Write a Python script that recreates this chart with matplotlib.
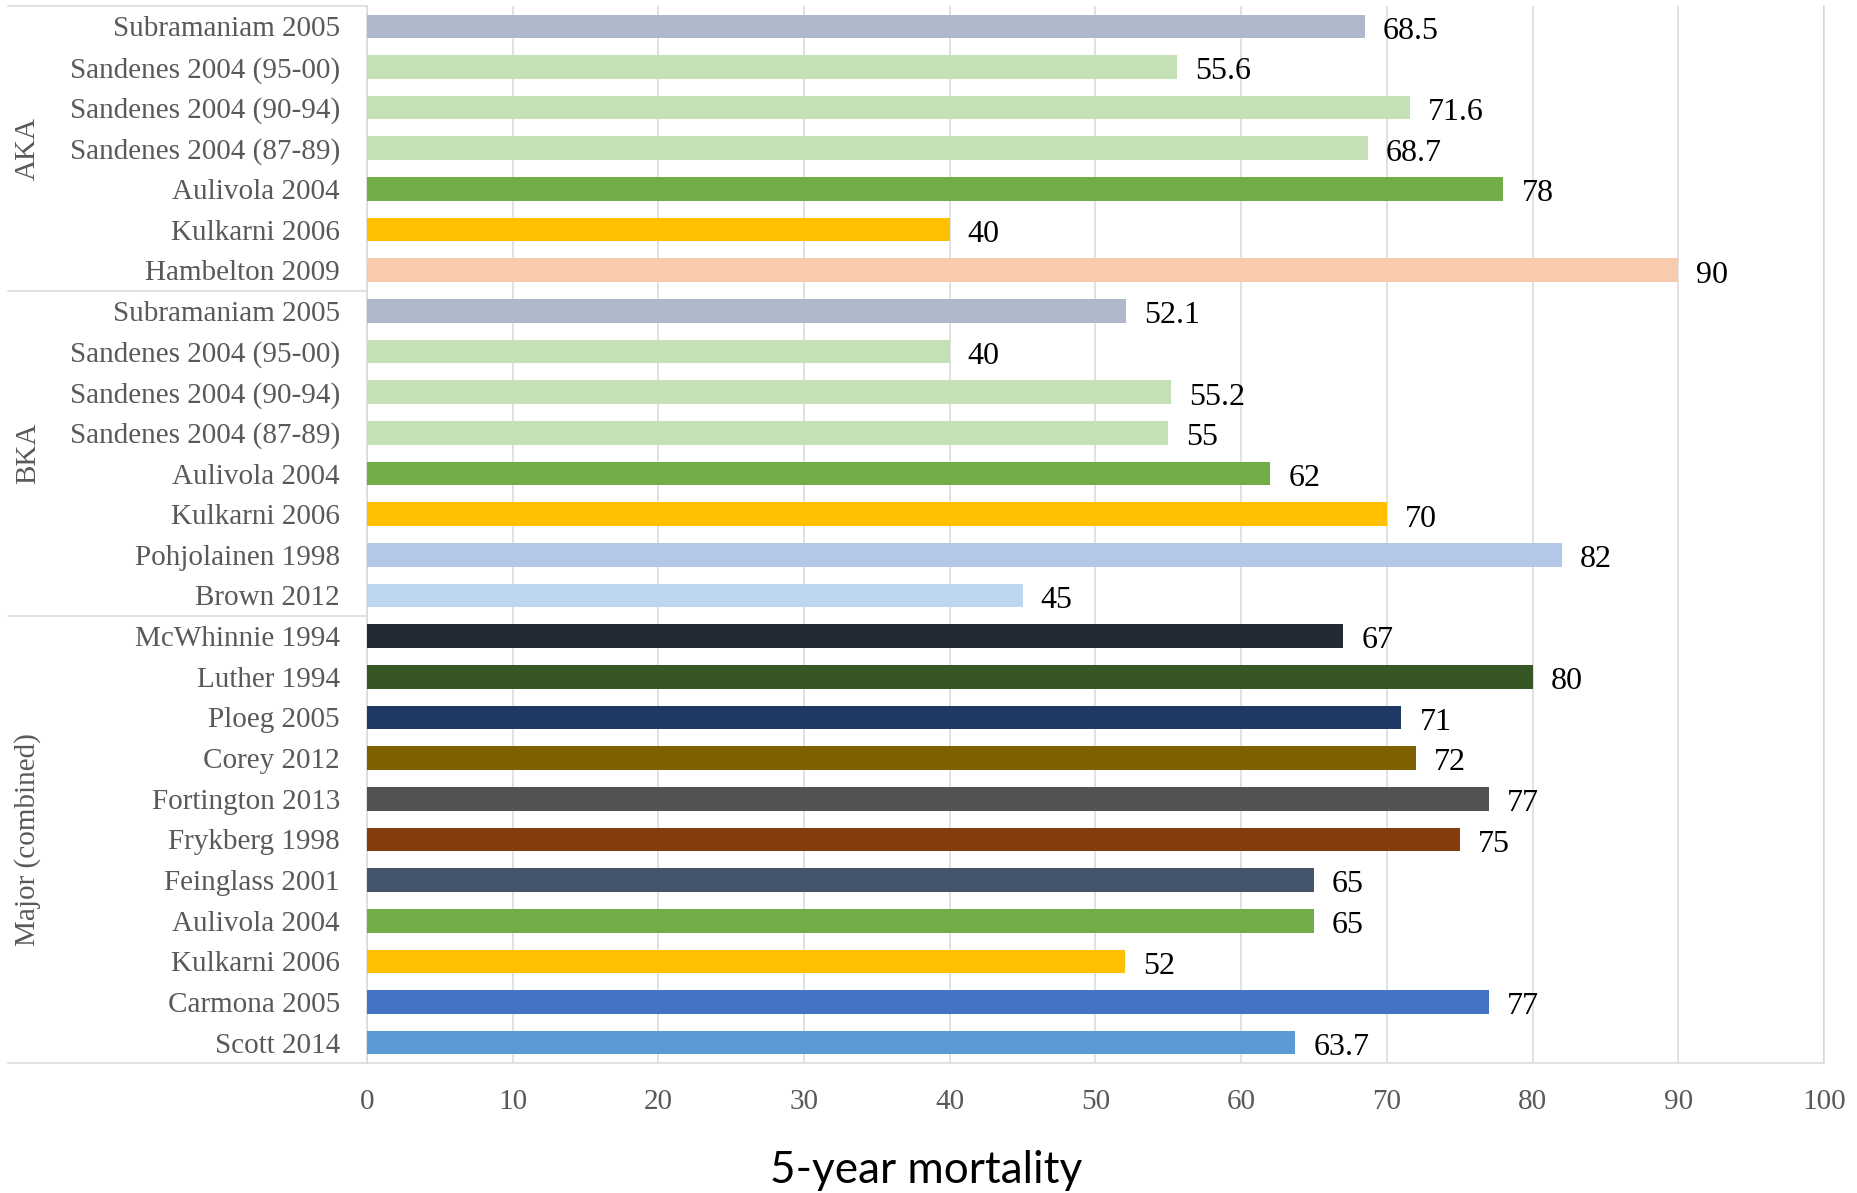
import matplotlib
matplotlib.use("Agg")
import matplotlib.pyplot as plt

# Five-year mortality after amputation, by study, grouped by amputation level
groups = ["AKA", "BKA", "Major (combined)"]

aka_studies = ["Subramaniam 2005", "Sandenes 2004 (95-00)", "Sandenes 2004 (90-94)",
               "Sandenes 2004 (87-89)", "Aulivola 2004", "Kulkarni 2006", "Hambelton 2009"]
aka_values = [68.5, 55.6, 71.6, 68.7, 78, 40, 90]

bka_studies = ["Subramaniam 2005", "Sandenes 2004 (95-00)", "Sandenes 2004 (90-94)",
               "Sandenes 2004 (87-89)", "Aulivola 2004", "Kulkarni 2006",
               "Pohjolainen 1998", "Brown 2012"]
bka_values = [52.1, 40, 55.2, 55, 62, 70, 82, 45]

major_studies = ["McWhinnie 1994", "Luther 1994", "Ploeg 2005", "Corey 2012",
                 "Fortington 2013", "Frykberg 1998", "Feinglass 2001", "Aulivola 2004",
                 "Kulkarni 2006", "Carmona 2005", "Scott 2014"]
major_values = [67, 80, 71, 72, 77, 75, 65, 65, 52, 77, 63.7]

study_colors = {
    "Subramaniam 2005": "#ADB9CA",
    "Sandenes 2004 (95-00)": "#C5E0B4",
    "Sandenes 2004 (90-94)": "#C5E0B4",
    "Sandenes 2004 (87-89)": "#C5E0B4",
    "Aulivola 2004": "#70AD47",
    "Kulkarni 2006": "#FFC000",
    "Hambelton 2009": "#F8CBAD",
    "Pohjolainen 1998": "#B4C7E7",
    "Brown 2012": "#BDD7EE",
    "McWhinnie 1994": "#222A35",
    "Luther 1994": "#375623",
    "Ploeg 2005": "#1F3864",
    "Corey 2012": "#7F6000",
    "Fortington 2013": "#525252",
    "Frykberg 1998": "#843C0C",
    "Feinglass 2001": "#44546A",
    "Carmona 2005": "#4472C4",
    "Scott 2014": "#5B9BD5",
}

x_ticks = [0, 10, 20, 30, 40, 50, 60, 70, 80, 90, 100]

serif = ["Liberation Serif", "DejaVu Serif"]
text_gray = "#595959"
line_gray = "#D9D9D9"

group_lists = [(aka_studies, aka_values), (bka_studies, bka_values),
               (major_studies, major_values)]
labels, values, colors, group_sizes = [], [], [], []
for studies, vals in group_lists:
    labels += studies
    values += vals
    colors += [study_colors[s] for s in studies]
    group_sizes.append(len(studies))
positions = list(range(len(labels)))

W, H = 1858, 1193
fig = plt.figure(figsize=(W / 100, H / 100), dpi=100)
left_px, right_px, top_px, bottom_px = 367, 1824, 6, 1063
ax = fig.add_axes([left_px / W, 1 - bottom_px / H,
                   (right_px - left_px) / W, (bottom_px - top_px) / H])

ax.barh(positions, values, height=0.58, color=colors, zorder=3)
ax.set_ylim(len(labels) - 0.5, -0.5)
ax.set_xlim(0, 100)

for y, v in zip(positions, values):
    ax.annotate(f"{v:g}", xy=(v, y), xytext=(13, -3.5), textcoords="offset points",
                ha="left", va="center", fontsize=23, family=serif, color="black",
                zorder=4)

ax.set_yticks(positions)
ax.set_yticklabels(labels, family=serif, fontsize=21, color=text_gray)
ax.tick_params(axis="y", length=0, pad=19.5)
ax.set_xticks(x_ticks)
ax.set_xticklabels([str(t) for t in x_ticks], family=serif, fontsize=21,
                   color=text_gray)
ax.tick_params(axis="x", length=0, pad=19)

ax.xaxis.grid(True, color=line_gray, linewidth=1.1, zorder=0)
ax.set_axisbelow(True)
ax.spines["top"].set_visible(False)
for side in ["left", "bottom", "right"]:
    ax.spines[side].set_color(line_gray)
    ax.spines[side].set_linewidth(1.1)

# category table on the left: separator lines and rotated group names
trans = ax.get_yaxis_transform()
x_edge = -(left_px - 8) / (right_px - left_px)
bounds = [-0.5]
for n in group_sizes:
    bounds.append(bounds[-1] + n)
for b in bounds:
    ax.plot([x_edge, 0], [b, b], transform=trans, color=line_gray,
            linewidth=1.1, clip_on=False, zorder=1)
x_group = -(left_px - 28) / (right_px - left_px)
for g, lo, hi in zip(groups, bounds[:-1], bounds[1:]):
    ax.text(x_group, (lo + hi) / 2, g, transform=trans, rotation=90,
            ha="center", va="center", fontsize=21, family=serif,
            color=text_gray)

fig.text(926 / W, 1 - 1183 / H, "5-year mortality", ha="center", va="baseline",
         fontsize=31.8, family=["Lato", "DejaVu Sans"], color="black")

fig.savefig("out.png", dpi=100)
